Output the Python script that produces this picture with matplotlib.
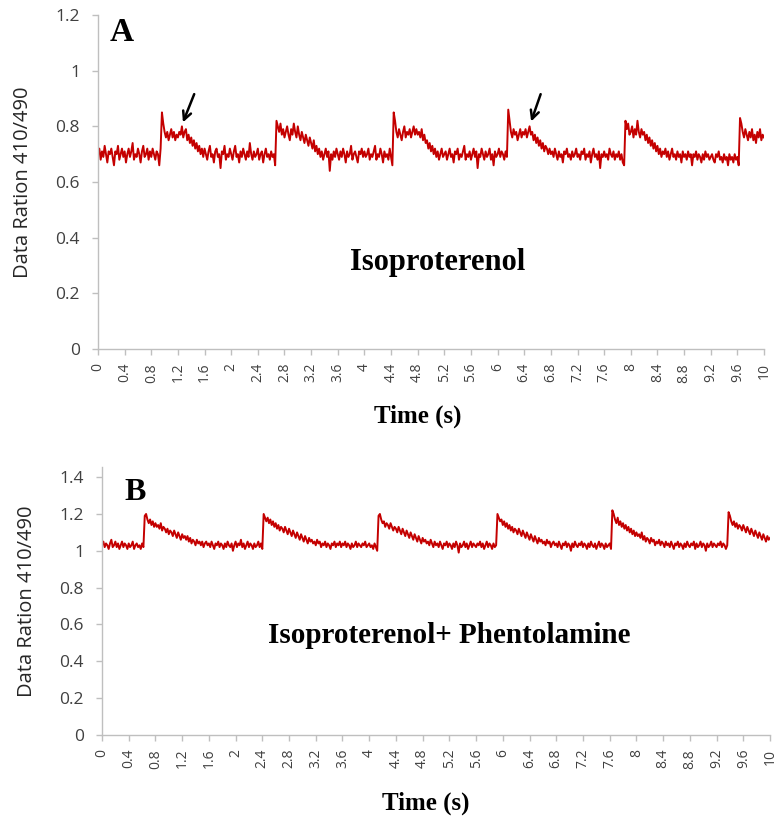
import numpy as np
import matplotlib
matplotlib.use("Agg")
import matplotlib.pyplot as plt

# ---------------- data (sampled every 0.02 s, 20 samples per row = 0.4 s) ----------------
time_step = 0.02
ratio_A_rows = [
    [0.70,0.72,0.68,0.71,0.69,0.73,0.70,0.67,0.71,0.70,0.72,0.69,0.66,0.71,0.70,0.73,0.68,0.70,0.72,0.69],
    [0.71,0.67,0.70,0.72,0.69,0.71,0.74,0.68,0.70,0.69,0.72,0.70,0.67,0.71,0.73,0.69,0.70,0.72,0.68,0.71],
    [0.69,0.72,0.70,0.68,0.71,0.70,0.66,0.72,0.85,0.81,0.78,0.76,0.78,0.75,0.77,0.79,0.76,0.78,0.75,0.77],
    [0.76,0.78,0.77,0.80,0.76,0.78,0.79,0.75,0.77,0.74,0.76,0.73,0.75,0.72,0.74,0.71,0.73,0.70,0.72,0.69],
    [0.72,0.70,0.68,0.71,0.73,0.69,0.70,0.67,0.71,0.72,0.69,0.70,0.65,0.71,0.70,0.73,0.68,0.70,0.69,0.72],
    [0.70,0.68,0.71,0.73,0.69,0.70,0.67,0.71,0.69,0.72,0.70,0.68,0.71,0.69,0.74,0.70,0.68,0.71,0.69,0.70],
    [0.72,0.68,0.70,0.71,0.67,0.70,0.72,0.69,0.70,0.68,0.71,0.69,0.70,0.66,0.82,0.80,0.78,0.81,0.77,0.79],
    [0.76,0.78,0.80,0.77,0.75,0.79,0.77,0.81,0.78,0.76,0.80,0.77,0.75,0.78,0.76,0.74,0.77,0.75,0.73,0.76],
    [0.74,0.72,0.75,0.71,0.73,0.70,0.72,0.69,0.71,0.68,0.70,0.72,0.69,0.71,0.64,0.70,0.68,0.71,0.69,0.72],
    [0.70,0.68,0.71,0.69,0.72,0.70,0.67,0.71,0.69,0.70,0.73,0.68,0.70,0.71,0.69,0.67,0.71,0.70,0.72,0.69],
    [0.71,0.69,0.70,0.72,0.68,0.70,0.69,0.71,0.73,0.68,0.70,0.69,0.72,0.70,0.67,0.71,0.69,0.70,0.68,0.72],
    [0.69,0.66,0.85,0.82,0.78,0.76,0.79,0.77,0.75,0.78,0.80,0.76,0.78,0.77,0.79,0.76,0.78,0.80,0.77,0.79],
    [0.77,0.78,0.76,0.79,0.75,0.77,0.74,0.75,0.72,0.74,0.71,0.73,0.70,0.72,0.69,0.71,0.68,0.70,0.72,0.69],
    [0.70,0.71,0.68,0.70,0.72,0.69,0.70,0.67,0.71,0.70,0.72,0.68,0.70,0.69,0.71,0.73,0.68,0.70,0.69,0.71],
    [0.68,0.70,0.72,0.69,0.71,0.65,0.70,0.69,0.72,0.70,0.68,0.71,0.69,0.70,0.72,0.68,0.70,0.66,0.71,0.69],
    [0.70,0.72,0.69,0.71,0.70,0.68,0.71,0.69,0.86,0.82,0.78,0.76,0.79,0.77,0.78,0.75,0.77,0.79,0.76,0.78],
    [0.77,0.79,0.76,0.78,0.80,0.77,0.78,0.75,0.77,0.74,0.76,0.73,0.75,0.72,0.74,0.71,0.73,0.72,0.70,0.72],
    [0.70,0.71,0.69,0.72,0.70,0.68,0.71,0.69,0.70,0.67,0.71,0.70,0.72,0.69,0.70,0.68,0.71,0.69,0.70,0.72],
    [0.69,0.70,0.68,0.71,0.70,0.72,0.68,0.70,0.69,0.71,0.67,0.70,0.72,0.69,0.70,0.68,0.71,0.65,0.70,0.69],
    [0.71,0.69,0.70,0.68,0.72,0.70,0.69,0.71,0.68,0.70,0.69,0.71,0.68,0.70,0.67,0.66,0.82,0.79,0.81,0.77],
    [0.78,0.80,0.76,0.79,0.77,0.82,0.78,0.76,0.79,0.77,0.78,0.75,0.77,0.74,0.76,0.73,0.75,0.72,0.74,0.71],
    [0.73,0.70,0.72,0.69,0.71,0.70,0.72,0.69,0.71,0.68,0.70,0.72,0.69,0.70,0.68,0.71,0.69,0.70,0.67,0.71],
    [0.69,0.70,0.68,0.71,0.69,0.70,0.66,0.70,0.69,0.71,0.68,0.70,0.69,0.67,0.70,0.68,0.71,0.69,0.70,0.68],
    [0.69,0.70,0.68,0.67,0.70,0.69,0.71,0.68,0.69,0.67,0.70,0.68,0.69,0.66,0.70,0.68,0.69,0.67,0.70,0.68],
    [0.69,0.66,0.83,0.81,0.78,0.76,0.79,0.77,0.75,0.78,0.76,0.79,0.75,0.77,0.74,0.78,0.76,0.79,0.75,0.77],
    [0.76],
]
ratio_B_rows = [
    [1.03,1.05,1.02,1.04,1.03,1.01,1.04,1.06,1.02,1.03,1.05,1.02,1.04,1.01,1.03,1.05,1.02,1.04,1.03,1.01],
    [1.04,1.02,1.03,1.05,1.01,1.03,1.04,1.02,1.03,1.01,1.04,1.02,1.19,1.20,1.17,1.15,1.17,1.14,1.16,1.13],
    [1.15,1.13,1.14,1.12,1.15,1.11,1.13,1.12,1.10,1.12,1.09,1.11,1.10,1.08,1.11,1.09,1.07,1.10,1.08,1.06],
    [1.09,1.07,1.08,1.06,1.08,1.05,1.07,1.04,1.06,1.05,1.03,1.06,1.04,1.05,1.03,1.05,1.02,1.04,1.05,1.03],
    [1.04,1.02,1.05,1.03,1.01,1.04,1.03,1.05,1.02,1.04,1.03,1.01,1.04,1.02,1.05,1.03,1.02,1.04,1.00,1.03],
    [1.05,1.02,1.04,1.03,1.06,1.02,1.04,1.01,1.03,1.05,1.02,1.04,1.03,1.01,1.04,1.02,1.03,1.05,1.02,1.04],
    [1.01,1.20,1.18,1.16,1.18,1.15,1.17,1.14,1.16,1.13,1.15,1.12,1.14,1.11,1.13,1.12,1.10,1.13,1.11,1.09],
    [1.12,1.10,1.08,1.11,1.09,1.07,1.10,1.08,1.06,1.09,1.07,1.05,1.08,1.06,1.04,1.07,1.05,1.06,1.04,1.05],
    [1.03,1.06,1.04,1.05,1.02,1.04,1.03,1.05,1.02,1.04,1.03,1.01,1.04,1.03,1.05,1.02,1.04,1.03,1.05,1.02],
    [1.04,1.03,1.05,1.02,1.04,1.03,1.01,1.04,1.02,1.03,1.05,1.02,1.04,1.03,1.02,1.04,1.03,1.05,1.02,1.03],
    [1.04,1.02,1.03,1.01,1.04,1.02,1.00,1.19,1.20,1.17,1.15,1.16,1.13,1.15,1.14,1.12,1.15,1.13,1.11,1.13],
    [1.12,1.10,1.13,1.11,1.09,1.12,1.10,1.08,1.11,1.09,1.07,1.10,1.08,1.06,1.09,1.07,1.05,1.08,1.06,1.04],
    [1.07,1.05,1.06,1.04,1.05,1.03,1.06,1.04,1.02,1.05,1.03,1.04,1.02,1.05,1.03,1.01,1.04,1.03,1.05,1.02],
    [1.04,1.03,1.01,1.04,1.02,1.05,1.03,0.99,1.04,1.02,1.03,1.05,1.02,1.04,1.01,1.03,1.05,1.02,1.04,1.03],
    [1.02,1.04,1.03,1.05,1.02,1.04,1.01,1.03,1.05,1.02,1.04,1.03,1.01,1.04,1.02,1.03,1.20,1.18,1.16,1.17],
    [1.14,1.16,1.13,1.15,1.12,1.14,1.11,1.13,1.10,1.12,1.11,1.09,1.12,1.10,1.08,1.11,1.09,1.07,1.10,1.08],
    [1.06,1.09,1.07,1.05,1.08,1.06,1.04,1.07,1.05,1.06,1.04,1.05,1.03,1.06,1.04,1.05,1.02,1.04,1.05,1.03],
    [1.04,1.02,1.05,1.03,1.01,1.04,1.03,1.05,1.02,1.04,1.03,1.00,1.04,1.02,1.05,1.03,1.02,1.04,1.03,1.05],
    [1.02,1.04,1.03,1.01,1.04,1.02,1.05,1.03,1.02,1.04,1.01,1.03,1.05,1.02,1.04,1.03,1.01,1.04,1.02,1.03],
    [1.04,1.01,1.22,1.20,1.17,1.15,1.18,1.14,1.16,1.13,1.15,1.12,1.14,1.11,1.13,1.10,1.12,1.09,1.11,1.08],
    [1.10,1.08,1.09,1.07,1.10,1.06,1.08,1.05,1.07,1.06,1.04,1.07,1.05,1.06,1.03,1.05,1.04,1.06,1.03,1.05],
    [1.04,1.02,1.05,1.03,1.04,1.02,1.05,1.03,1.01,1.04,1.03,1.05,1.02,1.04,1.03,1.01,1.04,1.02,1.05,1.03],
    [1.02,1.04,1.03,1.05,1.01,1.04,1.02,1.03,1.05,1.02,1.04,1.03,1.00,1.04,1.02,1.03,1.05,1.02,1.04,1.03],
    [1.02,1.04,1.03,1.05,1.02,1.04,1.03,1.01,1.03,1.21,1.19,1.16,1.14,1.16,1.13,1.15,1.12,1.14,1.13,1.11],
    [1.14,1.12,1.10,1.13,1.11,1.09,1.12,1.10,1.08,1.11,1.09,1.07,1.10,1.08,1.06,1.09,1.07,1.05,1.08,1.06],
    [1.07],
]
x_ticks = [round(0.4 * i, 1) for i in range(26)]
x_tick_labels = ["%g" % v for v in x_ticks]
yticks_A = [0, 0.2, 0.4, 0.6, 0.8, 1, 1.2]
yticks_B = [0, 0.2, 0.4, 0.6, 0.8, 1, 1.2, 1.4]

ratio_A = [v for row in ratio_A_rows for v in row]
ratio_B = [v for row in ratio_B_rows for v in row]
t_A = np.arange(len(ratio_A)) * time_step
t_B = np.arange(len(ratio_B)) * time_step

# ---------------- figure ----------------
fig = plt.figure(figsize=(7.81, 8.21), dpi=100)
line_col = "#C40000"
spine_col = "#BFBFBF"
sans = ["Open Sans", "DejaVu Sans"]
serif = ["Liberation Serif", "DejaVu Serif"]


def style(ax, yticks, ylim):
    for s in ("top", "right"):
        ax.spines[s].set_visible(False)
    for s in ("left", "bottom"):
        ax.spines[s].set_color(spine_col)
        ax.spines[s].set_linewidth(1.0)
    ax.set_xlim(0, 10)
    ax.set_ylim(*ylim)
    ax.set_xticks(x_ticks)
    ax.set_xticklabels(x_tick_labels, rotation=90, fontsize=10, family=sans, color="#404040")
    ax.set_yticks(yticks)
    ax.set_yticklabels(["%g" % v for v in yticks], fontsize=12.5, family=sans, color="#404040")
    ax.tick_params(axis="both", direction="out", length=4, width=1.0, color=spine_col, pad=6)
    ax.tick_params(axis="y", pad=9)
    ax.set_ylabel("Data Ration 410/490", fontsize=14.5, family=sans, color="#262626", labelpad=16)
    ax.set_xlabel("Time (s)", fontsize=18, family=serif, fontweight="bold", labelpad=12)


axA = fig.add_axes([98 / 781, 1 - 349 / 821, 666 / 781, 334 / 821])
axA.plot(t_A, ratio_A, color=line_col, lw=1.4)
style(axA, yticks_A, (0, 1.2))
axA.xaxis.set_label_coords(0.48, -0.165)
axA.text(0.018, 0.995, "A", transform=axA.transAxes, fontsize=24, family=serif,
         fontweight="bold", va="top", ha="left")
axA.text(0.51, 0.26, "Isoproterenol", transform=axA.transAxes, fontsize=22, family=serif,
         fontweight="bold", ha="center", va="center")
for tail, head in [((1.46, 0.925), (1.26, 0.805)), ((6.66, 0.925), (6.49, 0.808))]:
    axA.annotate("", xy=head, xytext=tail,
                 arrowprops=dict(arrowstyle="->", color="black", lw=1.8, mutation_scale=15))

axB = fig.add_axes([102 / 781, 1 - 735 / 821, 668 / 781, 268 / 821])
axB.plot(t_B, ratio_B, color=line_col, lw=1.4)
style(axB, yticks_B, (0, 1.455))
axB.xaxis.set_label_coords(0.485, -0.21)
axB.text(0.034, 0.96, "B", transform=axB.transAxes, fontsize=23, family=serif,
         fontweight="bold", va="top", ha="left")
axB.text(0.52, 0.37, "Isoproterenol+ Phentolamine", transform=axB.transAxes, fontsize=21,
         family=serif, fontweight="bold", ha="center", va="center")

fig.savefig("out.png", dpi=100)
